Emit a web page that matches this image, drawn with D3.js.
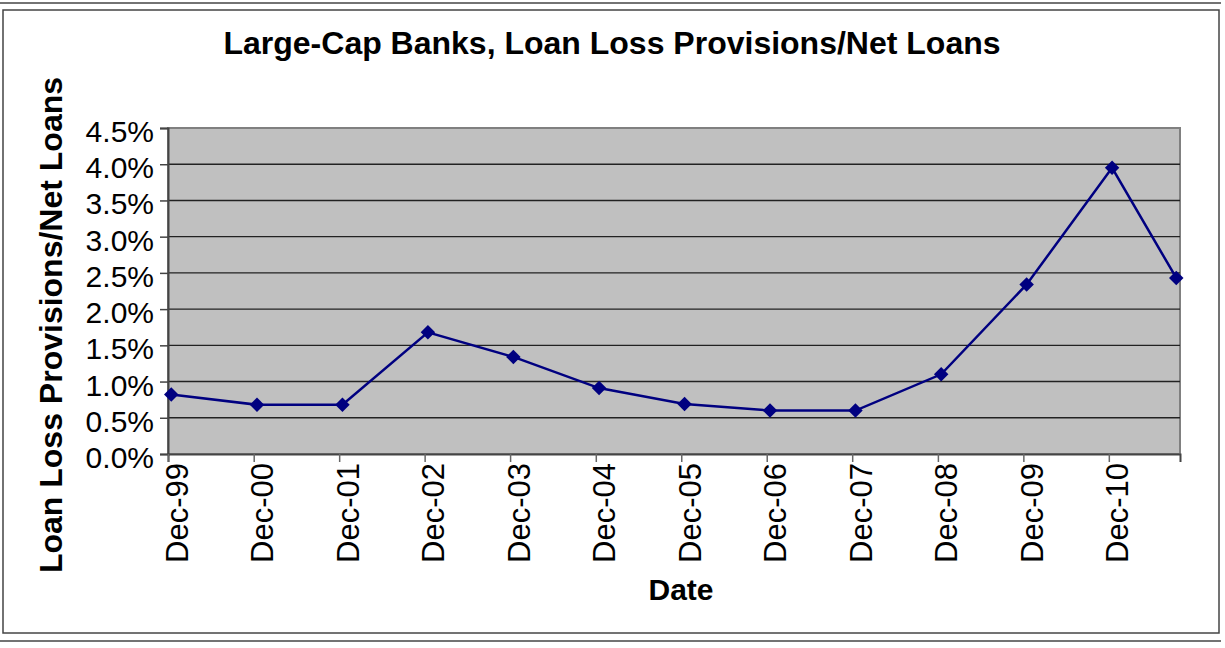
<!DOCTYPE html>
<html>
<head>
<meta charset="utf-8">
<script src="https://cdn.jsdelivr.net/npm/d3@7"></script>
<style>
  body { margin: 0; background: #fff; }
  text { font-family: "Liberation Sans", Arial, sans-serif; }
</style>
</head>
<body>
<script>
    //data
    var dates = ["1999-12-15", "2000-12-15", "2001-12-15", "2002-12-15",
        "2003-12-15", "2004-12-15", "2005-12-15", "2006-12-15",
        "2007-12-15", "2008-12-15", "2009-12-15", "2010-12-15", "2011-09-15"];
    var values = [0.0082, 0.0068, 0.0068, 0.0168, 0.0134, 0.0091, 0.0069,
        0.0060, 0.0060, 0.0110, 0.0234, 0.0395, 0.0243];
    var tickLabels = ["Dec-99", "Dec-00", "Dec-01", "Dec-02", "Dec-03", "Dec-04",
        "Dec-05", "Dec-06", "Dec-07", "Dec-08", "Dec-09", "Dec-10"];
    var yTicks = [0, 0.005, 0.01, 0.015, 0.02, 0.025, 0.03, 0.035, 0.04, 0.045];

    var width = 1225;
    var height = 648;

    //plot area
    var plot = { left: 168, right: 1180, top: 128, bottom: 454 };

    var parseDate = d3.timeParse("%Y-%m-%d");
    var parseTick = d3.timeParse("%b-%y");

    var data = dates.map(function (d, i) {
        return { date: parseDate(d), value: values[i] };
    });

    //scales
    var xScale = d3.scaleTime()
        .domain([new Date(1999, 11, 1), new Date(2011, 9, 1)])
        .range([plot.left, plot.right]);

    var yScale = d3.scaleLinear()
        .domain([0, 0.045])
        .range([plot.bottom, plot.top]);

    var svg = d3.select("body")
        .append("svg")
        .attr("width", width)
        .attr("height", height);

    //outer frame
    svg.append("line")
        .attr("x1", 0).attr("x2", 1221).attr("y1", 3).attr("y2", 3)
        .attr("stroke", "#444").attr("stroke-width", 1.5);
    svg.append("line")
        .attr("x1", 0).attr("x2", 1221).attr("y1", 641).attr("y2", 641)
        .attr("stroke", "#444").attr("stroke-width", 1.5);
    svg.append("rect")
        .attr("x", 3).attr("y", 10)
        .attr("width", 1216).attr("height", 623)
        .attr("fill", "none")
        .attr("stroke", "#444").attr("stroke-width", 1.5);

    //plot background
    svg.append("rect")
        .attr("x", plot.left).attr("y", plot.top)
        .attr("width", plot.right - plot.left)
        .attr("height", plot.bottom - plot.top)
        .attr("fill", "#c0c0c0")
        .attr("stroke", "#808080")
        .attr("stroke-width", 2);

    //gridlines
    svg.append("g")
        .selectAll("line")
        .data(yTicks.slice(1, -1))
        .enter()
        .append("line")
        .attr("x1", plot.left)
        .attr("x2", plot.right)
        .attr("y1", function (d) { return yScale(d); })
        .attr("y2", function (d) { return yScale(d); })
        .attr("stroke", "#222")
        .attr("stroke-width", 1.4);

    //y axis
    var yAxis = d3.axisLeft(yScale)
        .tickValues(yTicks)
        .tickFormat(d3.format(".1%"))
        .tickSizeOuter(0)
        .tickSize(8);

    var yG = svg.append("g")
        .attr("transform", "translate(" + plot.left + ",0)")
        .call(yAxis);
    yG.select(".domain").attr("stroke", "#444").attr("stroke-width", 2);
    yG.selectAll(".tick line").attr("stroke", "#444").attr("stroke-width", 1.5);
    yG.selectAll(".tick text")
        .attr("x", -14)
        .attr("dy", "0.45em")
        .attr("font-size", 30)
        .attr("font-family", "Liberation Sans, Arial, sans-serif")
        .attr("fill", "#000");

    //x axis
    var xAxis = d3.axisBottom(xScale)
        .tickValues(tickLabels.map(parseTick))
        .tickFormat(d3.timeFormat("%b-%y"))
        .tickSizeOuter(0)
        .tickSize(8);

    var xG = svg.append("g")
        .attr("transform", "translate(0," + plot.bottom + ")")
        .call(xAxis);
    xG.select(".domain").attr("stroke", "#444").attr("stroke-width", 2);
    xG.selectAll(".tick line").attr("stroke", "#666").attr("stroke-width", 1.5);
    xG.selectAll(".tick text")
        .attr("transform", "rotate(-90)")
        .attr("text-anchor", "end")
        .attr("x", -9)
        .attr("y", 19)
        .attr("dy", 0)
        .attr("font-size", 31)
        .attr("font-family", "Liberation Sans, Arial, sans-serif")
        .attr("fill", "#000");

    //line
    var line = d3.line()
        .x(function (d) { return xScale(d.date); })
        .y(function (d) { return yScale(d.value); });

    svg.append("path")
        .datum(data)
        .attr("d", line)
        .attr("fill", "none")
        .attr("stroke", "#000080")
        .attr("stroke-width", 2.5);

    //markers
    svg.append("g")
        .selectAll("path")
        .data(data)
        .enter()
        .append("path")
        .attr("d", d3.symbol().type(d3.symbolSquare).size(105))
        .attr("transform", function (d) {
            return "translate(" + xScale(d.date) + "," + yScale(d.value) + ") rotate(45)";
        })
        .attr("fill", "#000080");

    //titles
    svg.append("text")
        .attr("x", 612)
        .attr("y", 54)
        .attr("text-anchor", "middle")
        .attr("font-size", 32)
        .attr("font-weight", "bold")
        .text("Large-Cap Banks, Loan Loss Provisions/Net Loans");

    svg.append("text")
        .attr("transform", "translate(62,325) rotate(-90)")
        .attr("text-anchor", "middle")
        .attr("font-size", 32)
        .attr("font-weight", "bold")
        .text("Loan Loss Provisions/Net Loans");

    svg.append("text")
        .attr("x", 681)
        .attr("y", 600)
        .attr("text-anchor", "middle")
        .attr("font-size", 30)
        .attr("font-weight", "bold")
        .text("Date");
</script>
</body>
</html>
